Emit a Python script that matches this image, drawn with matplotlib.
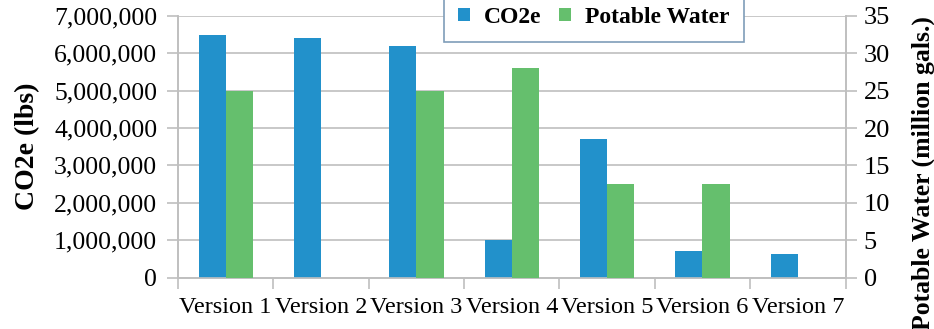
import matplotlib.pyplot as plt
import numpy as np

versions = ["Version 1", "Version 2", "Version 3", "Version 4",
            "Version 5", "Version 6", "Version 7"]
co2e_lbs = [6500000, 6400000, 6200000, 1000000, 3700000, 700000, 640000]
water_mgal = [25, 0, 25, 28, 12.5, 12.5, 0]

blue = "#2291CB"
green = "#65BF6D"
grid_col = "#BFBFBF"

plt.rcParams["font.family"] = ["Liberation Serif", "DejaVu Serif"]

fig = plt.figure(figsize=(9.34, 3.29), dpi=100)
ax = fig.add_axes([178 / 934, 1 - 277.5 / 329, (845.5 - 178) / 934, (277.5 - 16) / 329])
ax2 = ax.twinx()

x = np.arange(len(versions))
w = 0.285
ax.bar(x - w / 2, co2e_lbs, w, color=blue, label="CO2e", zorder=3)
ax2.bar(x + w / 2, water_mgal, w, color=green, label="Potable Water", zorder=3)

ax.set_xlim(-0.5, len(versions) - 0.5)
ax.set_ylim(0, 7000000)
ax2.set_ylim(0, 35)
ax.set_yticks(np.arange(0, 7000001, 1000000))
ax2.set_yticks(np.arange(0, 36, 5))
ax.set_yticklabels(["{:,}".format(v) for v in range(0, 7000001, 1000000)])
ax.yaxis.grid(True, color=grid_col, lw=1.2, zorder=0)
ax.set_axisbelow(True)

# category boundaries get the tick marks, names sit between them
ax.set_xticks(np.arange(-0.5, len(versions)), minor=False)
ax.set_xticklabels([])
ax.set_xticks(x, minor=True)
ax.set_xticklabels(versions, minor=True)
ax.tick_params(axis="x", which="minor", length=0, pad=14, labelsize=17.5)
ax.tick_params(axis="x", which="major", length=8, color=grid_col, width=1.2)
ax.tick_params(axis="y", length=8, color=grid_col, width=1.2, labelsize=18.5, pad=7)
ax2.tick_params(axis="y", length=8, color=grid_col, width=1.2, labelsize=19, pad=5)

for a in (ax, ax2):
    for s in a.spines.values():
        s.set_color(grid_col)
        s.set_linewidth(1.2)
    a.spines["top"].set_visible(False)

ax.set_ylabel("CO2e (lbs)", fontsize=20, fontweight="bold", labelpad=10)
ax2.set_ylabel("Potable Water (million gals.)", fontsize=18.5, fontweight="bold")
ax2.yaxis.set_label_coords(1.099, 0.40)

h1, l1 = ax.get_legend_handles_labels()
h2, l2 = ax2.get_legend_handles_labels()
leg = ax2.legend(h1 + h2, l1 + l2, loc="lower center", bbox_to_anchor=(0.623, 0.9),
                 borderaxespad=0, ncol=2, prop={"weight": "bold", "size": 17},
                 frameon=True, fancybox=False, handlelength=0.5, handleheight=0.5,
                 columnspacing=0.75, handletextpad=0.6, borderpad=0.6)
leg.get_frame().set_edgecolor("#7F9DB9")
leg.get_frame().set_linewidth(1.2)
leg.get_frame().set_alpha(1)

fig.savefig("out.png", dpi=100)
